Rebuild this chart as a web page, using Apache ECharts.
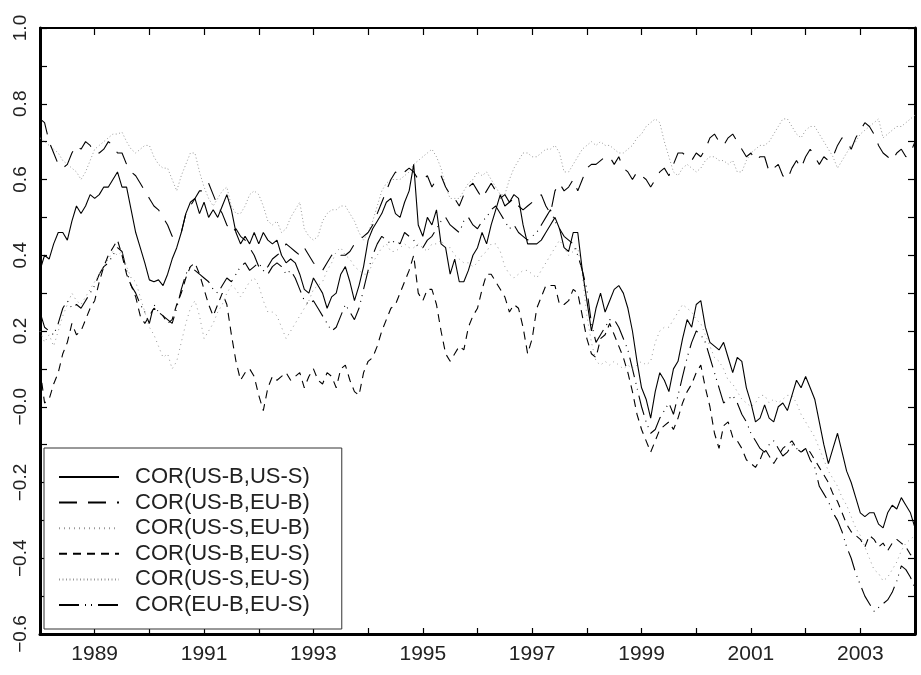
<!DOCTYPE html>
<html>
<head>
<meta charset="utf-8">
<script src="https://cdn.jsdelivr.net/npm/echarts@6/dist/echarts.min.js"></script>
<style>html,body{margin:0;padding:0;background:#fff}#c{width:921px;height:675px}</style>
</head>
<body>
<div id="c"></div>
<script>
// Monthly observations, Jan 1988 .. Jan 2004
const seriesNames = ['COR(US-B,US-S)','COR(US-B,EU-B)','COR(US-S,EU-B)','COR(US-B,EU-S)','COR(US-S,EU-S)','COR(EU-B,EU-S)'];
const startYear = 1988;
const xTickYears = [1989,1991,1993,1995,1997,1999,2001,2003];

const usbUss = [
 0.36,0.40,0.39,0.43,0.46,0.46,0.44,0.49,0.53,0.51,0.53,0.56,
 0.55,0.56,0.58,0.58,0.60,0.62,0.58,0.58,0.52,0.46,0.42,0.38,
 0.335,0.33,0.335,0.32,0.35,0.39,0.42,0.46,0.51,0.54,0.55,0.51,
 0.54,0.50,0.52,0.50,0.53,0.56,0.52,0.46,0.43,0.45,0.43,0.46,
 0.43,0.46,0.44,0.43,0.44,0.40,0.38,0.39,0.38,0.35,0.31,0.30,
 0.34,0.32,0.30,0.26,0.29,0.30,0.35,0.37,0.33,0.28,0.32,0.37,
 0.44,0.47,0.49,0.51,0.54,0.55,0.51,0.50,0.54,0.57,0.64,0.48,
 0.45,0.50,0.48,0.52,0.43,0.42,0.35,0.39,0.33,0.33,0.36,0.40,
 0.42,0.46,0.43,0.48,0.52,0.56,0.53,0.54,0.56,0.55,0.48,0.43,
 0.43,0.43,0.44,0.46,0.48,0.50,0.47,0.42,0.41,0.46,0.46,0.36,
 0.28,0.20,0.26,0.30,0.25,0.28,0.31,0.32,0.30,0.26,0.20,0.12,
 0.05,0.02,-0.03,0.04,0.09,0.07,0.04,0.10,0.12,0.18,0.23,0.21,
 0.27,0.28,0.21,0.17,0.16,0.15,0.17,0.13,0.09,0.13,0.12,0.05,
 0.01,-0.04,-0.03,0.005,-0.03,-0.04,0.0,0.01,-0.01,0.03,0.07,0.05,
 0.08,0.05,0.02,-0.04,-0.10,-0.15,-0.11,-0.07,-0.12,-0.17,-0.20,-0.24,
 -0.28,-0.29,-0.28,-0.28,-0.31,-0.32,-0.28,-0.26,-0.27,-0.24,-0.26,-0.28,
 -0.32
];
const usbEub = [
 0.76,0.75,0.70,0.67,0.64,0.63,0.64,0.67,0.69,0.68,0.70,0.69,
 0.67,0.67,0.68,0.70,0.69,0.67,0.67,0.64,0.62,0.61,0.59,0.57,
 0.55,0.53,0.52,0.50,0.48,0.45,0.46,0.46,0.51,0.53,0.55,0.57,
 0.57,0.59,0.56,0.53,0.51,0.48,0.46,0.47,0.45,0.44,0.42,0.40,
 0.37,0.36,0.37,0.39,0.40,0.41,0.43,0.42,0.41,0.40,0.42,0.40,
 0.38,0.37,0.36,0.38,0.40,0.41,0.40,0.40,0.41,0.43,0.44,0.45,
 0.46,0.48,0.51,0.54,0.57,0.60,0.62,0.61,0.62,0.63,0.62,0.60,
 0.60,0.61,0.58,0.60,0.61,0.58,0.56,0.55,0.53,0.56,0.58,0.59,
 0.57,0.55,0.57,0.59,0.57,0.55,0.56,0.54,0.55,0.53,0.52,0.53,
 0.54,0.55,0.56,0.53,0.51,0.57,0.59,0.57,0.58,0.60,0.57,0.60,
 0.63,0.64,0.64,0.65,0.66,0.66,0.64,0.66,0.63,0.62,0.60,0.62,
 0.61,0.60,0.58,0.60,0.62,0.63,0.61,0.64,0.67,0.67,0.66,0.65,
 0.67,0.66,0.68,0.71,0.72,0.70,0.69,0.71,0.72,0.70,0.68,0.66,
 0.67,0.65,0.66,0.66,0.62,0.63,0.64,0.61,0.60,0.63,0.65,0.63,
 0.66,0.68,0.66,0.64,0.66,0.65,0.66,0.69,0.71,0.70,0.68,0.71,
 0.73,0.75,0.74,0.72,0.69,0.67,0.66,0.65,0.67,0.68,0.66,0.67,
 0.70
];
const ussEub = [
 0.20,0.17,0.19,0.16,0.20,0.24,0.27,0.30,0.28,0.27,0.29,0.31,
 0.33,0.35,0.37,0.39,0.41,0.40,0.41,0.37,0.34,0.33,0.29,0.25,
 0.21,0.19,0.16,0.13,0.14,0.10,0.12,0.17,0.22,0.26,0.28,0.24,
 0.18,0.20,0.22,0.25,0.27,0.30,0.32,0.31,0.29,0.31,0.33,0.34,
 0.32,0.28,0.25,0.25,0.24,0.21,0.18,0.20,0.22,0.24,0.26,0.28,
 0.31,0.32,0.33,0.36,0.38,0.41,0.42,0.40,0.39,0.37,0.36,0.35,
 0.35,0.38,0.40,0.42,0.43,0.41,0.41,0.42,0.43,0.42,0.42,0.43,
 0.42,0.41,0.43,0.43,0.44,0.42,0.42,0.40,0.39,0.38,0.38,0.37,
 0.38,0.40,0.41,0.43,0.43,0.41,0.37,0.35,0.34,0.35,0.36,0.36,
 0.35,0.34,0.36,0.38,0.40,0.42,0.44,0.42,0.40,0.41,0.42,0.35,
 0.24,0.17,0.12,0.11,0.12,0.11,0.12,0.11,0.10,0.11,0.10,0.11,
 0.12,0.11,0.12,0.17,0.20,0.21,0.21,0.23,0.25,0.27,0.26,0.25,
 0.23,0.22,0.19,0.16,0.13,0.12,0.10,0.07,0.06,0.04,0.02,0.01,
 0.00,0.01,0.03,0.03,0.01,0.02,0.01,0.02,0.03,0.03,0.01,-0.02,
 -0.04,-0.06,-0.08,-0.11,-0.14,-0.17,-0.19,-0.21,-0.24,-0.26,-0.29,-0.32,
 -0.34,-0.37,-0.40,-0.43,-0.44,-0.46,-0.45,-0.43,-0.41,-0.38,-0.36,-0.35,
 -0.34
];
const usbEus = [
 0.10,0.01,0.02,0.06,0.09,0.14,0.17,0.22,0.19,0.20,0.23,0.26,
 0.28,0.33,0.37,0.40,0.42,0.44,0.40,0.35,0.32,0.29,0.24,0.22,
 0.24,0.26,0.25,0.24,0.22,0.23,0.27,0.30,0.34,0.37,0.38,0.35,
 0.31,0.27,0.24,0.27,0.30,0.27,0.19,0.12,0.07,0.09,0.10,0.08,
 0.03,-0.01,0.05,0.08,0.07,0.08,0.09,0.07,0.08,0.09,0.05,0.08,
 0.10,0.07,0.06,0.09,0.08,0.05,0.10,0.11,0.07,0.04,0.03,0.09,
 0.12,0.13,0.16,0.20,0.23,0.26,0.27,0.30,0.33,0.36,0.40,0.30,
 0.28,0.31,0.31,0.27,0.20,0.14,0.12,0.14,0.16,0.15,0.21,0.24,
 0.26,0.31,0.35,0.35,0.33,0.31,0.29,0.25,0.27,0.26,0.21,0.14,
 0.18,0.26,0.29,0.32,0.32,0.32,0.27,0.27,0.28,0.31,0.30,0.24,
 0.18,0.14,0.13,0.18,0.19,0.22,0.19,0.16,0.13,0.09,0.04,-0.02,
 -0.06,-0.09,-0.12,-0.09,-0.06,-0.05,-0.04,-0.06,-0.03,0.01,0.04,0.06,
 0.09,0.11,0.05,0.00,-0.07,-0.11,-0.05,-0.04,-0.08,-0.09,-0.11,-0.14,
 -0.15,-0.16,-0.14,-0.11,-0.13,-0.15,-0.13,-0.11,-0.10,-0.09,-0.11,-0.12,
 -0.11,-0.12,-0.14,-0.16,-0.18,-0.20,-0.23,-0.25,-0.28,-0.31,-0.33,-0.34,
 -0.35,-0.37,-0.34,-0.35,-0.37,-0.36,-0.38,-0.36,-0.35,-0.36,-0.37,-0.39,
 -0.40
];
const ussEus = [
 0.71,0.70,0.69,0.68,0.67,0.65,0.64,0.63,0.62,0.60,0.62,0.65,
 0.68,0.69,0.70,0.71,0.72,0.72,0.725,0.70,0.68,0.67,0.68,0.69,
 0.69,0.66,0.64,0.63,0.63,0.60,0.57,0.61,0.64,0.67,0.67,0.62,
 0.58,0.55,0.53,0.55,0.57,0.58,0.53,0.51,0.51,0.53,0.56,0.57,
 0.56,0.53,0.49,0.48,0.49,0.46,0.47,0.50,0.52,0.54,0.47,0.45,
 0.44,0.45,0.49,0.51,0.52,0.52,0.53,0.53,0.51,0.49,0.46,0.44,
 0.46,0.49,0.53,0.57,0.59,0.60,0.60,0.60,0.61,0.62,0.64,0.65,
 0.66,0.67,0.68,0.66,0.63,0.58,0.55,0.55,0.55,0.57,0.59,0.60,
 0.62,0.61,0.62,0.60,0.58,0.56,0.56,0.60,0.63,0.65,0.67,0.67,
 0.66,0.66,0.67,0.68,0.68,0.69,0.67,0.62,0.62,0.64,0.66,0.68,
 0.69,0.70,0.69,0.70,0.69,0.69,0.68,0.67,0.67,0.68,0.69,0.71,
 0.72,0.74,0.75,0.76,0.75,0.70,0.66,0.62,0.61,0.63,0.64,0.63,
 0.62,0.63,0.65,0.66,0.66,0.65,0.65,0.64,0.65,0.62,0.62,0.65,
 0.67,0.68,0.69,0.69,0.70,0.72,0.74,0.76,0.76,0.74,0.72,0.71,
 0.73,0.74,0.74,0.72,0.70,0.68,0.66,0.63,0.65,0.67,0.69,0.70,
 0.72,0.73,0.74,0.75,0.76,0.71,0.72,0.73,0.74,0.74,0.75,0.76,
 0.77
];
const eubEus = [
 0.25,0.21,0.20,0.19,0.22,0.26,0.28,0.26,0.27,0.26,0.28,0.30,
 0.32,0.35,0.37,0.38,0.40,0.42,0.41,0.36,0.32,0.30,0.27,0.25,
 0.22,0.27,0.25,0.24,0.23,0.22,0.26,0.31,0.35,0.37,0.36,0.35,
 0.34,0.33,0.31,0.30,0.32,0.34,0.33,0.35,0.37,0.38,0.36,0.37,
 0.38,0.36,0.35,0.37,0.38,0.37,0.35,0.36,0.34,0.31,0.28,0.27,
 0.28,0.26,0.24,0.22,0.20,0.21,0.24,0.27,0.25,0.23,0.26,0.31,
 0.36,0.40,0.43,0.45,0.44,0.43,0.44,0.43,0.46,0.45,0.44,0.42,
 0.42,0.44,0.45,0.47,0.49,0.50,0.48,0.47,0.46,0.49,0.50,0.48,
 0.47,0.49,0.50,0.52,0.53,0.51,0.49,0.47,0.48,0.46,0.45,0.44,
 0.45,0.46,0.48,0.50,0.52,0.49,0.47,0.45,0.44,0.43,0.40,0.36,
 0.31,0.22,0.17,0.19,0.21,0.23,0.23,0.21,0.18,0.15,0.10,0.05,
 0.00,-0.04,-0.07,-0.06,-0.03,-0.01,0.01,-0.02,0.03,0.08,0.13,0.17,
 0.20,0.19,0.17,0.13,0.09,0.05,0.01,0.02,0.03,0.01,-0.02,-0.04,
 -0.07,-0.09,-0.11,-0.12,-0.10,-0.09,-0.11,-0.13,-0.12,-0.10,-0.11,-0.12,
 -0.11,-0.14,-0.16,-0.21,-0.23,-0.25,-0.28,-0.30,-0.33,-0.37,-0.40,-0.44,
 -0.47,-0.50,-0.52,-0.54,-0.53,-0.52,-0.51,-0.49,-0.46,-0.42,-0.43,-0.45,
 -0.48
];

const allValues = [usbUss, usbEub, ussEub, usbEus, ussEus, eubEus];
const styles = [
  {color:'#000', width:1.1, type:'solid'},
  {color:'#000', width:1.1, type:[18,11]},
  {color:'#999', width:1, type:[1,4]},
  {color:'#000', width:1.1, type:[8,6]},
  {color:'#999', width:1, type:[1,2.5]},
  {color:'#000', width:1.1, type:[20,6,1,5,1,6]}
];

const chart = echarts.init(document.getElementById('c'), null, {renderer:'canvas'});
const font = 'Liberation Sans, Arial, sans-serif';

function yLabel(v){
  const r = Math.round(v*10);
  if (r % 2 !== 0) return '';
  if (r === 0) return '\u22120.0';
  const s = Math.abs(v).toFixed(1);
  return (v < 0 ? '\u2212' : '') + s;
}

const series = allValues.map((vals, k) => ({
  name: seriesNames[k],
  type: 'line',
  data: vals.map((v, i) => [startYear + i/12, v]),
  showSymbol: false,
  symbol: 'none',
  smooth: false,
  lineStyle: styles[k],
  itemStyle: {color: styles[k].color},
  emphasis: {disabled: true},
  animation: false,
  z: 6 - k
}));

chart.setOption({
  animation: false,
  backgroundColor: '#fff',
  grid: {left: 40, right: 6, top: 28, bottom: 41, containLabel: false},
  legend: {
    show: true,
    orient: 'vertical',
    left: 44, top: 448,
    backgroundColor: '#fff',
    borderColor: '#333',
    borderWidth: 1,
    padding: [18, 32, 13, 14],
    itemWidth: 60,
    itemHeight: 12,
    itemGap: 3.6,
    selectedMode: false,
    itemStyle: {opacity: 0, color: 'rgba(0,0,0,0)', borderWidth: 0},
    textStyle: {fontFamily: font, fontSize: 22, color: '#222', lineHeight: 22, padding: [0,0,0,11]},
    data: seriesNames
  },
  xAxis: [{
    type: 'value', min: 1988, max: 2004, interval: 1,
    position: 'bottom',
    axisLine: {show: true, onZero: false, lineStyle: {color: '#000', width: 3}},
    axisTick: {show: true, inside: true, length: 6, lineStyle: {color: '#000', width: 1.2}},
    axisLabel: {
      show: true, margin: 10, fontFamily: font, fontSize: 21, color: '#222',
      formatter: v => xTickYears.indexOf(Math.round(v)) >= 0 ? String(Math.round(v)) : ''
    },
    splitLine: {show: false}
  },{
    type: 'value', min: 1988, max: 2004, interval: 1,
    position: 'top',
    axisLine: {show: true, onZero: false, lineStyle: {color: '#000', width: 2}},
    axisTick: {show: true, inside: true, length: 7, lineStyle: {color: '#000', width: 1.2}},
    axisLabel: {show: false},
    splitLine: {show: false}
  }],
  yAxis: [{
    type: 'value', min: -0.6, max: 1.0, interval: 0.1,
    position: 'left',
    axisLine: {show: true, onZero: false, lineStyle: {color: '#000', width: 3}},
    axisTick: {show: true, inside: true, length: 7, lineStyle: {color: '#000', width: 1.2}},
    axisLabel: {show: true, rotate: 90, margin: 10, fontFamily: font, fontSize: 19, color: '#222', formatter: yLabel},
    splitLine: {show: false}
  },{
    type: 'value', min: -0.6, max: 1.0, interval: 0.1,
    position: 'right',
    axisLine: {show: true, onZero: false, lineStyle: {color: '#000', width: 3}},
    axisTick: {show: true, inside: true, length: 7, lineStyle: {color: '#000', width: 1.2}},
    axisLabel: {show: false},
    splitLine: {show: false}
  }],
  series: series
});
</script>
</body>
</html>
